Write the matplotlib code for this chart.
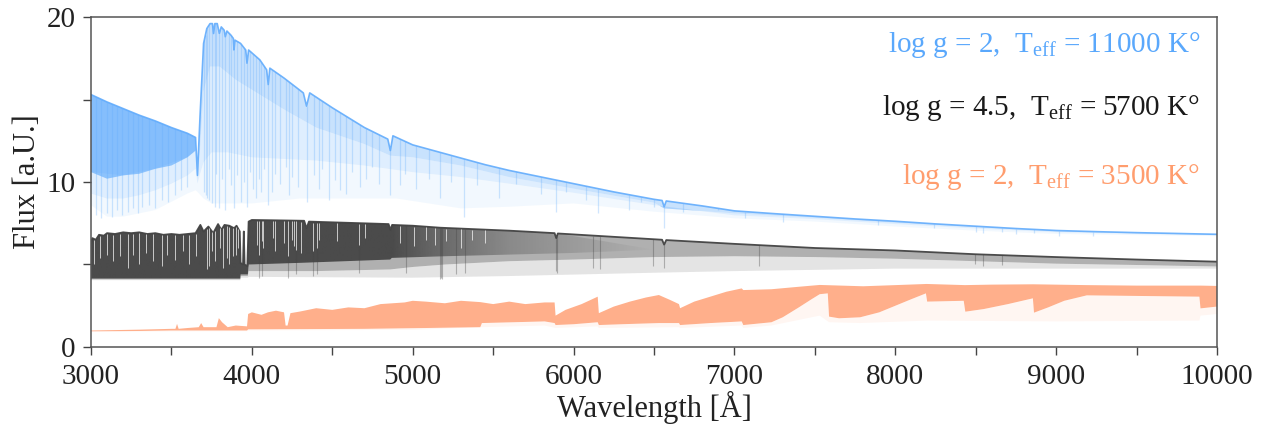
import numpy as np
import matplotlib
matplotlib.use("Agg")
import matplotlib.pyplot as plt
from matplotlib.colors import to_rgb
from matplotlib.ticker import MultipleLocator

plt.rcParams['font.family'] = ['Liberation Serif', 'DejaVu Serif']
plt.rcParams['mathtext.fontset'] = 'custom'
plt.rcParams['mathtext.rm'] = 'Liberation Serif'

# ---------- T = 11000 K, log g = 2 (edges) ----------
blue_top_wl = [3000, 3100, 3200, 3300, 3400, 3500, 3600, 3650, 3662, 3678, 3700, 3720, 3740, 3755,
               3762, 3770, 3785, 3798, 3810, 3828, 3835, 3845, 3870, 3885, 3889, 3895, 3930, 3962,
               3970, 3980, 4050, 4092, 4102, 4112, 4200, 4320, 4340, 4360, 4500, 4700, 4845, 4861,
               4877, 5000, 5150, 5300, 5450, 5600, 5800, 6000, 6250, 6500, 6550, 6563, 6576, 6800,
               7000, 7250, 7500, 7750, 8000, 8250, 8500, 8750, 9000, 9250, 9500, 9750, 10000]
blue_top = [15.3, 14.85, 14.45, 14.05, 13.7, 13.3, 12.95, 12.7, 10.4, 14.0, 18.4, 19.3, 19.6, 19.6,
            19.0, 19.6, 19.6, 19.0, 19.4, 19.2, 18.8, 19.15, 18.9, 18.7, 18.0, 18.6, 18.4, 18.0,
            17.2, 18.0, 17.4, 16.8, 15.9, 16.9, 16.3, 15.4, 14.6, 15.4, 14.5, 13.3, 12.6, 11.9,
            12.8, 12.25, 11.85, 11.45, 11.05, 10.7, 10.3, 9.9, 9.4, 8.95, 8.88, 8.5, 8.85, 8.55,
            8.25, 8.08, 7.92, 7.76, 7.62, 7.46, 7.32, 7.18, 7.06, 6.99, 6.93, 6.88, 6.83]
# near-UV part is almost solid down to this edge
blue_uv_wl = [3000, 3100, 3200, 3300, 3400, 3500, 3600, 3650]
blue_uv = [10.6, 10.2, 10.4, 10.5, 10.8, 11.0, 11.5, 11.9]
blue_mid_wl = [3000, 3200, 3400, 3600, 3650, 3662, 3678, 3700, 3740, 3800, 3900, 4000, 4200, 4400,
               4700, 4861, 5000, 5300, 5600, 6000, 6500, 6563, 7000, 7500, 8000, 8500, 9000, 9500,
               10000]
blue_mid = [10.6, 10.4, 10.8, 11.5, 11.9, 10.1, 12.0, 15.5, 17.0, 17.0, 16.2, 15.6, 14.4, 13.3,
            12.3, 11.6, 11.5, 11.0, 10.3, 9.6, 8.75, 8.4, 8.1, 7.83, 7.53, 7.25, 7.0, 6.89,
            6.79]
blue_light_wl = [3000, 3100, 3200, 3300, 3400, 3500, 3600, 3650, 3662, 3678, 3700, 3750, 3850, 4000,
                 4200, 4400, 4700, 5000, 5300, 5600, 6000, 6500, 7000, 7500, 8000, 8500, 9000, 9500,
                 10000]
blue_light = [9.3, 9.0, 9.0, 9.2, 9.5, 9.9, 10.4, 10.8, 9.9, 10.5, 11.2, 11.8, 11.8, 11.5,
              11.4, 11.3, 11.0, 10.6, 10.3, 9.9, 9.35, 8.6, 7.98, 7.75, 7.45, 7.18, 6.95, 6.85,
              6.76]
blue_faint_wl = [3000, 3100, 3200, 3300, 3400, 3500, 3600, 3650, 3662, 3700, 3750, 4000, 4300, 4900,
                 5300, 5600, 6000, 6500, 7000, 7500, 8000, 8500, 9000, 9500, 10000]
blue_faint = [8.6, 7.9, 7.9, 8.1, 8.3, 8.8, 9.3, 9.5, 9.4, 9.0, 8.7, 8.7, 9.0, 9.0,
              8.4, 8.5, 8.7, 8.2, 7.8, 7.6, 7.3, 7.05, 6.85, 6.78, 6.72]
# single deep lines (position, lowest flux)
blue_lines_wl = [3030, 3065, 3100, 3130, 3160, 3190, 3230, 3260, 3290, 3320, 3360, 3400, 3440, 3480,
                 3520, 3560, 3600, 3705, 3712, 3722, 3734, 3750, 3771, 3780, 3798, 3815, 3835, 3855,
                 3870, 3889, 3905, 3933, 3950, 3970, 3990, 4010, 4026, 4045, 4060, 4075, 4102, 4128,
                 4145, 4172, 4215, 4233, 4250, 4290, 4340, 4385, 4416, 4435, 4481, 4520, 4550, 4584,
                 4620, 4670, 4710, 4750, 4790, 4861, 4924, 4950, 5018, 5100, 5169, 5235, 5316, 5400,
                 5535, 5640, 5800, 5890, 5950, 6080, 6150, 6347, 6420, 6497, 6563, 6680, 6900, 7065,
                 7300, 7890, 8240, 8500, 8545, 8665, 8750, 8865, 9015, 9230]
blue_lines_lo = [8.0, 7.8, 8.1, 7.9, 8.3, 8.0, 8.2, 8.4, 8.1, 8.5, 8.6, 8.4, 8.9, 8.8,
                 9.2, 9.5, 9.7, 9.4, 9.2, 9.0, 8.9, 8.7, 8.5, 10.5, 8.4, 10.2, 8.3, 10.8,
                 9.8, 8.4, 10.4, 8.8, 10.0, 8.5, 10.6, 9.6, 9.0, 10.2, 9.4, 10.8, 8.6, 9.4,
                 10.5, 9.9, 10.9, 9.2, 10.3, 9.7, 8.8, 10.4, 9.6, 10.8, 8.9, 10.1, 9.5, 9.3,
                 10.6, 9.7, 10.2, 10.9, 9.9, 9.2, 9.8, 10.5, 9.6, 10.2, 9.0, 10.0, 7.9, 9.8,
                 9.0, 9.9, 9.3, 8.2, 9.4, 8.9, 8.1, 8.3, 8.8, 8.5, 7.2, 8.2, 8.3, 7.8,
                 7.6, 7.4, 7.2, 6.95, 6.9, 6.95, 6.85, 6.9, 6.75, 6.7]

# ---------- T = 5700 K, log g = 4.5 ----------
black_top_wl = [3000, 3008, 3030, 3050, 3080, 3100, 3150, 3200, 3250, 3300, 3350, 3400, 3450, 3500,
                3550, 3600, 3650, 3680, 3700, 3730, 3760, 3790, 3810, 3830, 3860, 3890, 3905, 3925,
                3930, 3945, 3950, 3955, 3972, 3980, 4000, 4325, 4340, 4355, 4850, 4861, 4872, 5000,
                5170, 5600, 5882, 5892, 5902, 6550, 6563, 6576, 7000, 7500, 8000, 8500, 9000, 9500,
                10000]
black_top = [6.3, 6.6, 6.5, 6.8, 6.75, 6.9, 6.85, 6.95, 6.9, 6.95, 6.85, 6.9, 6.8, 6.85,
             6.8, 6.85, 6.9, 7.4, 7.0, 7.3, 6.9, 7.45, 7.1, 7.4, 7.35, 7.2, 7.35, 7.0,
             5.1, 5.0, 7.0, 5.0, 4.9, 7.6, 7.7, 7.65, 7.2, 7.6, 7.45, 7.1, 7.4, 7.35,
             7.23, 7.05, 6.9, 6.6, 6.88, 6.5, 6.2, 6.48, 6.25, 6.0, 5.85, 5.62, 5.45, 5.3,
             5.17]
# lower edge of the dark, blended part (it fades out towards the red)
black_dense_wl = [3000, 3928, 3930, 3975, 3980, 4300, 4860, 4870, 5200, 5600, 6000, 6500]
black_dense = [4.15, 4.15, 4.4, 4.4, 5.0, 5.1, 5.3, 5.4, 5.5, 5.6, 5.7, 5.9]
black_light_wl = [3000, 3928, 3930, 3975, 3980, 4400, 4860, 5000, 5200, 5600, 6000, 6500, 7000, 7500,
                  8000, 8500, 9000, 9500, 10000]
black_light = [4.1, 4.1, 4.3, 4.3, 4.6, 4.6, 4.7, 4.85, 5.0, 5.2, 5.3, 5.45, 5.5, 5.45,
               5.35, 5.2, 5.05, 4.97, 4.88]
black_faint_wl = [3000, 3928, 3930, 3975, 3980, 5000, 5600, 6500, 7000, 8000, 10000]
black_faint = [4.05, 4.05, 4.2, 4.2, 4.25, 4.2, 4.3, 4.5, 4.6, 4.75, 4.75]
# gaps between the blended lines (position, bottom of the gap)
black_gaps_wl = [3020, 3058, 3100, 3135, 3180, 3230, 3260, 3300, 3340, 3385, 3440, 3475, 3525, 3570,
                 3610, 3650, 3720, 3735, 3750, 3770, 3800, 3820, 3845, 3860, 3880, 3900, 3915, 4030,
                 4045, 4063, 4071, 4130, 4144, 4202, 4226, 4250, 4260, 4272, 4308, 4383, 4405, 4415,
                 4528, 4668, 4703, 4920, 5010, 5080, 5140, 5210, 5300, 5370, 5450]
black_gaps_lo = [5.0, 5.4, 5.6, 5.2, 5.5, 4.8, 5.6, 5.0, 5.7, 5.2, 4.9, 5.6, 5.3, 5.8,
                 5.0, 5.5, 4.7, 4.9, 5.8, 5.2, 6.0, 4.8, 5.4, 5.0, 5.5, 5.6, 6.0, 6.2,
                 5.6, 6.4, 6.0, 6.6, 5.8, 6.3, 5.5, 6.5, 6.1, 5.9, 5.7, 5.8, 6.0, 6.5,
                 6.4, 6.2, 6.6, 6.3, 6.1, 6.5, 6.2, 6.4, 6.0, 6.5, 6.3]
black_lines_wl = [4046, 4064, 4226, 4272, 4383, 4405, 4668, 4957, 5167, 5173, 5183, 5270, 5328, 5890,
                  5896, 6122, 6162, 6495, 6563, 7150, 8498, 8542, 8662]
black_lines_lo = [4.2, 4.3, 4.2, 4.4, 4.3, 4.4, 4.5, 4.5, 4.1, 4.2, 4.1, 4.4, 4.5, 4.6,
                  4.5, 4.8, 4.7, 4.9, 4.8, 4.9, 5.0, 4.9, 4.95]

# ---------- T = 3500 K, log g = 2 ----------
orange_top_wl = [3000, 3300, 3500, 3525, 3535, 3545, 3600, 3670, 3685, 3700, 3780, 3795, 3815, 3850,
                 3900, 3970, 3977, 4000, 4060, 4100, 4150, 4200, 4210, 4222, 4240, 4300, 4400, 4500,
                 4600, 4700, 4800, 4950, 5000, 5080, 5200, 5300, 5420, 5500, 5600, 5700, 5820, 5882,
                 5888, 5950, 6050, 6150, 6157, 6250, 6350, 6450, 6530, 6600, 6655, 6662, 6750, 6850,
                 6950, 7045, 7055, 7230, 7400, 7530, 7800, 8000, 8195, 8433, 8600, 8858, 9190, 9500,
                 9900, 10000]
orange_top = [1.0, 1.05, 1.1, 1.1, 1.4, 1.1, 1.15, 1.2, 1.45, 1.2, 1.2, 1.75, 1.5, 1.2,
              1.3, 1.25, 2.0, 2.1, 1.95, 2.1, 2.2, 2.1, 1.3, 1.3, 2.05, 2.15, 2.35, 2.25,
              2.4, 2.35, 2.6, 2.7, 2.8, 2.75, 2.65, 2.8, 2.72, 2.6, 2.75, 2.6, 2.7, 2.7,
              1.9, 2.25, 2.6, 3.05, 2.05, 2.45, 2.75, 3.0, 3.15, 2.85, 2.6, 2.35, 2.75, 3.05,
              3.35, 3.55, 3.45, 3.5, 3.65, 3.76, 3.68, 3.75, 3.82, 3.75, 3.78, 3.8, 3.75, 3.72,
              3.72, 3.7]
orange_dense_wl = [3000, 3300, 3500, 3970, 3977, 4700, 5080, 5420, 5430, 5820, 5882, 5888, 6000, 6150,
                   6157, 6300, 6530, 6655, 6662, 6850, 7045, 7055, 7230, 7300, 7400, 7480, 7530, 7580,
                   7588, 7650, 7781, 7900, 8000, 8100, 8190, 8198, 8425, 8435, 8550, 8700, 8855, 8862,
                   8950, 9050, 9190, 9890, 9897, 10000]
orange_dense = [0.95, 0.97, 1.0, 1.0, 1.07, 1.1, 1.15, 1.2, 1.45, 1.55, 1.45, 1.33, 1.38, 1.5,
                1.33, 1.38, 1.45, 1.45, 1.33, 1.45, 1.55, 1.33, 1.5, 1.8, 2.4, 2.9, 3.2, 3.25,
                1.84, 1.74, 1.8, 2.1, 2.5, 2.9, 3.25, 2.75, 2.8, 2.14, 2.3, 2.6, 2.95, 2.08,
                2.4, 2.8, 3.13, 3.05, 2.34, 2.45]
orange_faint_wl = [3000, 3970, 3977, 5000, 5430, 5820, 5888, 6150, 6157, 6655, 6662, 7045, 7055, 7230,
                   7530, 7588, 7781, 8200, 9000, 9890, 9897, 10000]
orange_faint = [0.92, 0.96, 1.0, 1.04, 1.2, 1.3, 1.15, 1.25, 1.15, 1.2, 1.15, 1.3, 1.15, 1.3,
                1.9, 1.5, 1.45, 1.6, 1.55, 1.6, 1.9, 2.0]

labels = ['log g = 2,  T$_{\\mathrm{eff}}$ = 11000 K°',
          'log g = 4.5,  T$_{\\mathrm{eff}}$ = 5700 K°',
          'log g = 2,  T$_{\\mathrm{eff}}$ = 3500 K°']

BLUE = '#62acfc'
BLACK = '#434343'
ORANGE = '#ffab85'


def band(ax, wl_hi, f_hi, wl_lo, f_lo, color, alpha):
    # polygon between an upper and a lower edge (edges may have their own nodes)
    x = np.concatenate([np.asarray(wl_hi), np.asarray(wl_lo)[::-1]])
    y = np.concatenate([np.asarray(f_hi), np.asarray(f_lo)[::-1]])
    return ax.fill(x, y, color=color, alpha=alpha, lw=0)[0]


def upto(wl, f, limit):
    wl = np.asarray(wl)
    return wl[wl <= limit], np.asarray(f)[wl <= limit]


fig = plt.figure(figsize=(12.67, 4.32), dpi=100)
ax = fig.add_axes([0.0718, 0.1968, 0.8888, 0.7638])

# orange
band(ax, orange_top_wl, orange_top, orange_dense_wl, orange_dense, ORANGE, 0.95)
band(ax, orange_dense_wl, orange_dense, orange_faint_wl, orange_faint, ORANGE, 0.1)

# black
band(ax, black_top_wl, black_top, black_light_wl, black_light, BLACK, 0.42)
band(ax, black_light_wl, black_light, black_faint_wl, black_faint, BLACK, 0.14)
w, f = upto(black_top_wl, black_top, 6500)
clip = band(ax, w, f, black_dense_wl, black_dense, BLACK, 0.0)
# dark blend fades out between 4900 and 6500 A
cols = np.linspace(3000, 10000, 1400)
fade = np.ones((1, cols.size, 4))
fade[..., :3] = to_rgb(BLACK)
fade[..., 3] = np.interp(cols, [3000, 4870, 5100, 5600, 6500], [0.93, 0.93, 0.7, 0.35, 0.0])
im = ax.imshow(fade, extent=[3000, 10000, 0, 20], aspect='auto', interpolation='bilinear', zorder=1.1)
im.set_clip_path(clip)
ax.plot(black_top_wl, black_top, color=BLACK, lw=1.3, alpha=0.95)

# blue
band(ax, blue_top_wl, blue_top, blue_mid_wl, blue_mid, BLUE, 0.35)
band(ax, blue_mid_wl, blue_mid, blue_light_wl, blue_light, BLUE, 0.2)
band(ax, blue_light_wl, blue_light, blue_faint_wl, blue_faint, BLUE, 0.08)
w, f = upto(blue_top_wl, blue_top, 3650)
band(ax, w, f, blue_uv_wl, blue_uv, BLUE, 0.65)
ax.plot(blue_top_wl, blue_top, color=BLUE, lw=1.2, alpha=0.9)

# single absorption lines
ax.vlines(blue_lines_wl, blue_lines_lo, np.interp(blue_lines_wl, blue_top_wl, blue_top),
          color=BLUE, alpha=0.3, lw=0.9)
ax.vlines(black_gaps_wl, black_gaps_lo, np.interp(black_gaps_wl, black_top_wl, black_top) - 0.05,
          color='white', alpha=0.7, lw=0.7, zorder=2.1)
ax.vlines(black_lines_wl, black_lines_lo, np.interp(black_lines_wl, black_top_wl, black_top),
          color=BLACK, alpha=0.35, lw=0.8)

ax.set_xlim(3000, 10000)
ax.set_ylim(0, 20)
ax.xaxis.set_major_locator(MultipleLocator(1000))
ax.xaxis.set_minor_locator(MultipleLocator(500))
ax.yaxis.set_major_locator(MultipleLocator(10))
ax.yaxis.set_minor_locator(MultipleLocator(5))
ax.tick_params(which='both', direction='out', colors='#444444', labelcolor='#222222',
               labelsize=21, width=1.0, length=6)
ax.tick_params(axis='x', which='both', pad=6)
ax.tick_params(axis='y', which='both', pad=5)
for s in ax.spines.values():
    s.set_color('#555555')
    s.set_linewidth(1.1)

ax.set_xlabel('Wavelength [Å]', fontsize=22, color='#222222', labelpad=1)
ax.set_ylabel('Flux [a.U.]', fontsize=22, color='#222222', labelpad=3)

ax.text(0.985, 0.915, labels[0], transform=ax.transAxes, ha='right', va='center',
        fontsize=21, color='#5aa8fc')
ax.text(0.985, 0.724, labels[1], transform=ax.transAxes, ha='right', va='center',
        fontsize=21, color='#1a1a1a')
ax.text(0.985, 0.515, labels[2], transform=ax.transAxes, ha='right', va='center',
        fontsize=21, color='#ff9d6e')

fig.savefig('out.png', dpi=100)
